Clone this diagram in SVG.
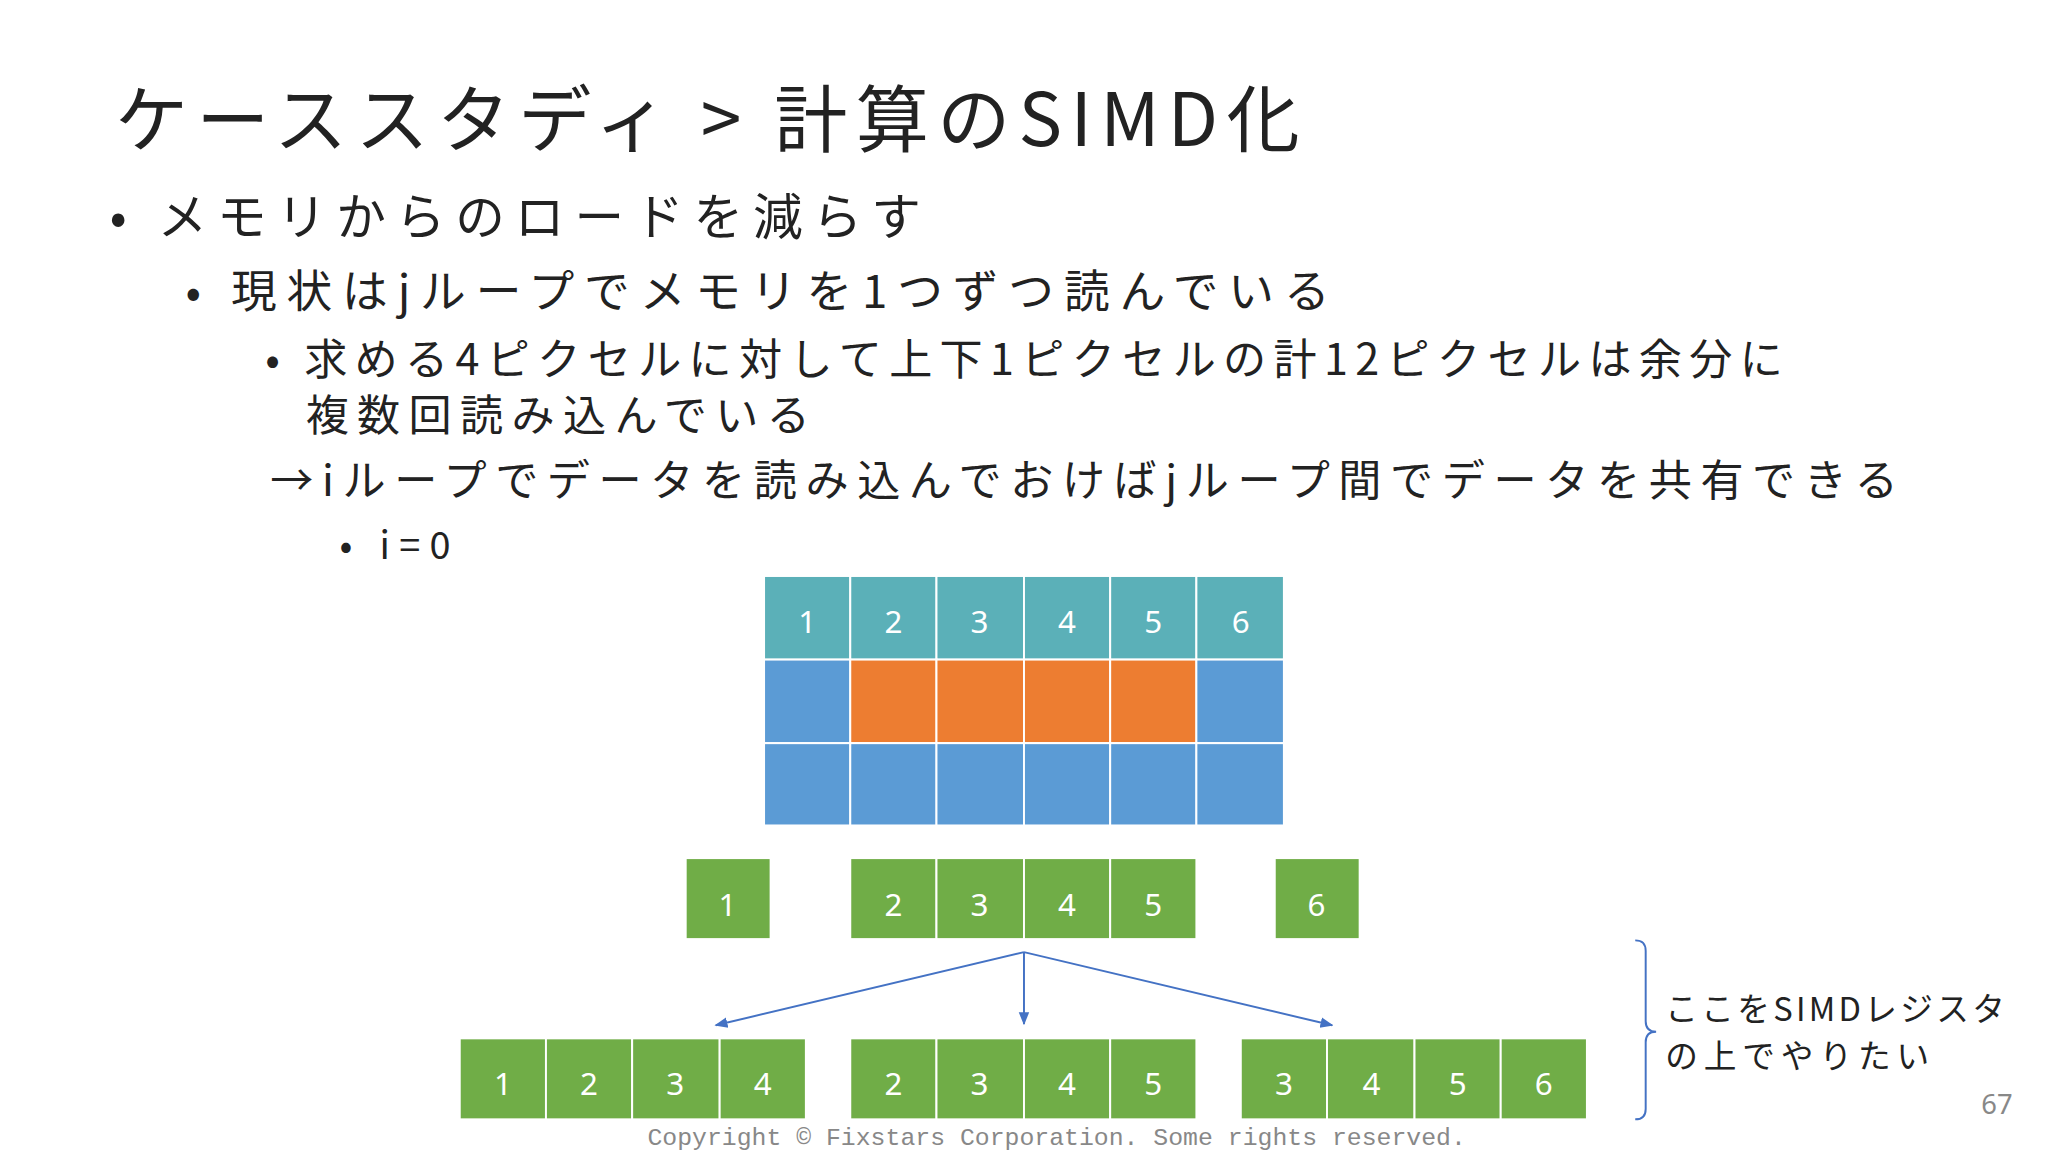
<svg xmlns="http://www.w3.org/2000/svg" width="2048" height="1152" viewBox="0 0 2048 1152">
<style>
.t{font-family:"Noto Sans CJK JP","Noto Sans",sans-serif;fill:#222}
.n{font-family:"Noto Sans","Noto Sans CJK JP",sans-serif;fill:#fff;font-size:24px;text-anchor:middle}
.g{fill:#70AD47;stroke:#fff;stroke-width:1.5}
.c{fill:#5BB0B8;stroke:#fff;stroke-width:1.5}
.b{fill:#5B9BD5;stroke:#fff;stroke-width:1.5}
.o{fill:#ED7D31;stroke:#fff;stroke-width:1.5}
.a{stroke:#4472C4;stroke-width:1.5;fill:none;marker-end:url(#ah)}
</style>
<defs><marker id="ah" markerWidth="10" markerHeight="10" refX="9" refY="5" orient="auto" markerUnits="userSpaceOnUse"><path d="M0,1 L10,5 L0,9 z" fill="#4472C4"/></marker></defs>
<rect width="2048" height="1152" fill="#fff"/>
<g transform="scale(1.3061)">
<g id="text">
<text class="t" x="88" y="112" font-size="56" textLength="907" lengthAdjust="spacing">ケーススタディ &gt; 計算のSIMD化</text>
<text class="t" x="84" y="180" font-size="38" textLength="621" lengthAdjust="spacing">• メモリからのロードを減らす</text>
<text class="t" x="142" y="236" font-size="35" textLength="876" lengthAdjust="spacing">• 現状はjループでメモリを1つずつ読んでいる</text>
<text class="t" x="203" y="287" font-size="33" textLength="1162" lengthAdjust="spacing">• 求める4ピクセルに対して上下1ピクセルの計12ピクセルは余分に</text>
<text class="t" x="234" y="330" font-size="33" textLength="386" lengthAdjust="spacing">複数回読み込んでいる</text>
<text class="t" x="207" y="380" font-size="33" textLength="1246" lengthAdjust="spacing">→iループでデータを読み込んでおけばjループ間でデータを共有できる</text>
<text class="t" x="260" y="428" font-size="29" textLength="85" lengthAdjust="spacing">• i=0</text>
</g>
<g id="grid">
<rect class="c" x="585" y="441" width="66" height="64"/><rect class="c" x="651" y="441" width="66" height="64"/><rect class="c" x="717" y="441" width="67" height="64"/><rect class="c" x="784" y="441" width="66" height="64"/><rect class="c" x="850" y="441" width="66" height="64"/><rect class="c" x="916" y="441" width="67" height="64"/>
<rect class="b" x="585" y="505" width="66" height="64"/><rect class="o" x="651" y="505" width="66" height="64"/><rect class="o" x="717" y="505" width="67" height="64"/><rect class="o" x="784" y="505" width="66" height="64"/><rect class="o" x="850" y="505" width="66" height="64"/><rect class="b" x="916" y="505" width="67" height="64"/>
<rect class="b" x="585" y="569" width="66" height="63"/><rect class="b" x="651" y="569" width="66" height="63"/><rect class="b" x="717" y="569" width="67" height="63"/><rect class="b" x="784" y="569" width="66" height="63"/><rect class="b" x="850" y="569" width="66" height="63"/><rect class="b" x="916" y="569" width="67" height="63"/>
<text class="n" x="618" y="485">1</text><text class="n" x="684" y="485">2</text><text class="n" x="750" y="485">3</text><text class="n" x="817" y="485">4</text><text class="n" x="883" y="485">5</text><text class="n" x="950" y="485">6</text>
</g>
<g id="loads">
<rect class="g" x="525" y="657" width="65" height="62"/><text class="n" x="557" y="701">1</text>
<rect class="g" x="651" y="657" width="66" height="62"/><rect class="g" x="717" y="657" width="67" height="62"/><rect class="g" x="784" y="657" width="66" height="62"/><rect class="g" x="850" y="657" width="66" height="62"/>
<text class="n" x="684" y="701">2</text><text class="n" x="750" y="701">3</text><text class="n" x="817" y="701">4</text><text class="n" x="883" y="701">5</text>
<rect class="g" x="976" y="657" width="65" height="62"/><text class="n" x="1008" y="701">6</text>
</g>
<g id="connectors">
<path class="a" d="M784,729 L548,785"/><path class="a" d="M784,729 L784,784"/><path class="a" d="M784,729 L1020,785"/>
<path d="M1252,720 Q1260,720 1260,728 L1260,782 Q1260,790 1268,790 Q1260,790 1260,798 L1260,849 Q1260,857 1252,857" fill="none" stroke="#4472C4" stroke-width="1.5"/>
</g>
<g id="vectors">
<rect class="g" x="352" y="795" width="66" height="62"/><rect class="g" x="418" y="795" width="66" height="62"/><rect class="g" x="484" y="795" width="67" height="62"/><rect class="g" x="551" y="795" width="66" height="62"/>
<text class="n" x="385" y="838">1</text><text class="n" x="451" y="838">2</text><text class="n" x="517" y="838">3</text><text class="n" x="584" y="838">4</text>
<rect class="g" x="651" y="795" width="66" height="62"/><rect class="g" x="717" y="795" width="67" height="62"/><rect class="g" x="784" y="795" width="66" height="62"/><rect class="g" x="850" y="795" width="66" height="62"/>
<text class="n" x="684" y="838">2</text><text class="n" x="750" y="838">3</text><text class="n" x="817" y="838">4</text><text class="n" x="883" y="838">5</text>
<rect class="g" x="950" y="795" width="66" height="62"/><rect class="g" x="1016" y="795" width="67" height="62"/><rect class="g" x="1083" y="795" width="66" height="62"/><rect class="g" x="1149" y="795" width="66" height="62"/>
<text class="n" x="983" y="838">3</text><text class="n" x="1050" y="838">4</text><text class="n" x="1116" y="838">5</text><text class="n" x="1182" y="838">6</text>
</g>
<g id="note">
<text class="t" x="1275" y="782" font-size="25" textLength="260" lengthAdjust="spacing">ここをSIMDレジスタ</text>
<text class="t" x="1275" y="818" font-size="25" textLength="202" lengthAdjust="spacing">の上でやりたい</text>
</g>
<text x="1517" y="853" font-size="21" fill="#888" font-family="Noto Sans,sans-serif">67</text>
<text x="809" y="877" font-size="19" fill="#888" text-anchor="middle" font-family="Liberation Mono,DejaVu Sans Mono,monospace">Copyright © Fixstars Corporation. Some rights reserved.</text>
</g>
</svg>
